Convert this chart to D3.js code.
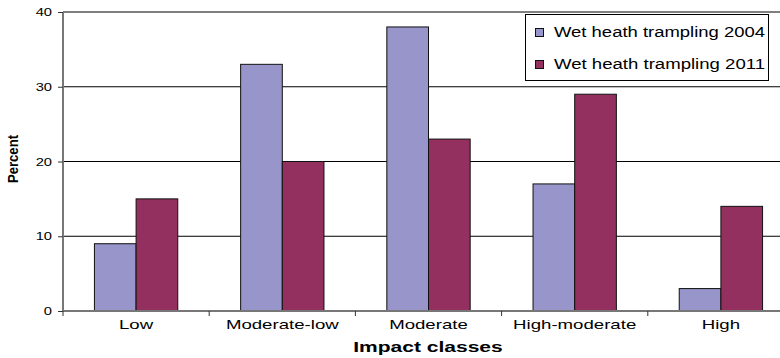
<!DOCTYPE html>
<html><head><meta charset="utf-8">
<script src="https://cdn.jsdelivr.net/npm/d3@7"></script>
<style>body{margin:0;background:#fff}svg{display:block}text{font-family:"Liberation Sans",Arial,sans-serif}</style>
</head><body>
<svg id="c" width="780" height="358"></svg>
<script>
const categories = ["Low","Moderate-low","Moderate","High-moderate","High"];
const seriesNames = ["Wet heath trampling 2004","Wet heath trampling 2011"];
const values2004 = [9,33,38,17,3];
const values2011 = [15,20,23,29,14];
const yTicks = [0,10,20,30,40];
const colors = ["#9795c9","#94305f"];

const svg = d3.select("#c");
const X0 = 63, X1 = 794, Y0 = 311, Y1 = 12;
const STRETCH = 1.4;
function stretch(sel){ sel.each(function(){ const l=this.getComputedTextLength(); d3.select(this).attr("textLength",l*STRETCH).attr("lengthAdjust","spacingAndGlyphs"); }); }

const x = d3.scaleBand().domain(categories).range([X0,X1]).paddingInner(0.43).paddingOuter(0.215);
const xs = d3.scaleBand().domain([0,1]).range([0,x.bandwidth()]);
const y = d3.scaleLinear().domain([0,40]).range([Y0,Y1]);

// gridlines
svg.append("g").selectAll("line").data(yTicks.slice(1)).join("line")
  .attr("x1",X0).attr("x2",X1).attr("y1",d=>y(d)).attr("y2",d=>y(d))
  .attr("stroke","#000").attr("stroke-width",1);

// bars
const data = categories.map((c,i)=>({c, v:[values2004[i],values2011[i]]}));
svg.append("g").selectAll("g").data(data).join("g")
  .attr("transform",d=>`translate(${x(d.c)},0)`)
  .selectAll("rect").data(d=>d.v.map((v,k)=>({v,k}))).join("rect")
  .attr("x",d=>xs(d.k)).attr("width",xs.bandwidth())
  .attr("y",d=>y(d.v)).attr("height",d=>Y0-y(d.v))
  .attr("fill",d=>colors[d.k]).attr("stroke","#111").attr("stroke-width",1);

// y axis
const ya = svg.append("g").attr("transform",`translate(${X0},0)`)
  .call(d3.axisLeft(y).tickValues(yTicks).tickSize(5).tickPadding(6).tickFormat(d3.format("d")));
ya.select(".domain").attr("stroke","#777").attr("stroke-width",2).attr("d",`M0,${Y1}V${Y0}`);
ya.selectAll(".tick line").attr("stroke","#333");
ya.selectAll("text").attr("font-size",10.5).attr("fill","#000").attr("dy","0.35em").attr("font-family","Liberation Sans, Arial, sans-serif");

// x axis
const xa = svg.append("g").attr("transform",`translate(0,${Y0})`);
xa.append("line").attr("x1",X0).attr("x2",X1).attr("y1",0).attr("y2",0).attr("stroke","#777").attr("stroke-width",2);
const bounds = categories.map(c=>x(c)-x.step()*x.paddingInner()/2);
xa.selectAll("line.tk").data(bounds.concat([X1])).join("line").attr("class","tk")
  .attr("x1",d=>d).attr("x2",d=>d).attr("y1",0).attr("y2",5).attr("stroke","#333");
xa.selectAll("text.cl").data(categories).join("text").attr("class","cl")
  .attr("x",d=>x(d)+x.bandwidth()/2).attr("y",18).attr("text-anchor","middle")
  .attr("font-size",13.3).attr("fill","#000").text(d=>d);

// stretch tick labels
ya.selectAll("text").call(stretch);
xa.selectAll("text").call(stretch);

// axis titles
svg.append("text").attr("x",428).attr("y",352).attr("text-anchor","middle")
  .attr("font-size",15).attr("font-weight","bold").text("Impact classes").call(stretch);
svg.append("text").attr("transform","translate(18,159) rotate(-90)").attr("text-anchor","middle")
  .attr("font-size",15).attr("font-weight","bold").text("Percent")
  .attr("textLength",48).attr("lengthAdjust","spacingAndGlyphs");

// legend
const lg = svg.append("g");
lg.append("rect").attr("x",525.5).attr("y",14.5).attr("width",243).attr("height",66)
  .attr("fill","#fff").attr("stroke","#000");
seriesNames.forEach((n,i)=>{
  const yy = 37 + i*32;
  lg.append("rect").attr("x",535.5).attr("y",yy-8.5).attr("width",8).attr("height",8)
    .attr("fill",colors[i]).attr("stroke","#111");
  lg.append("text").attr("x",554).attr("y",yy).attr("font-size",14).text(n)
    .attr("textLength",211).attr("lengthAdjust","spacingAndGlyphs");
});
</script>
</body></html>
